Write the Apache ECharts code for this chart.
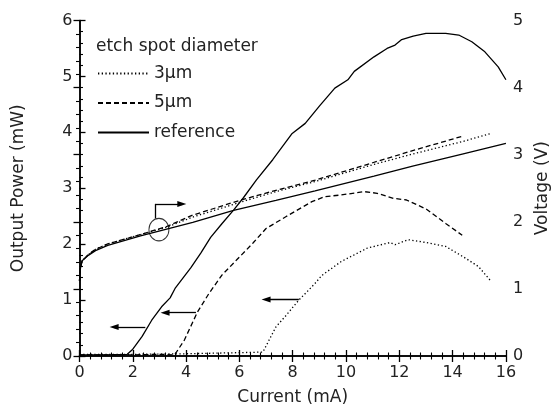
<!DOCTYPE html>
<html>
<head>
<meta charset="utf-8">
<script src="https://cdn.jsdelivr.net/npm/echarts@6/dist/echarts.min.js"></script>
<style>
html,body{margin:0;padding:0;background:#fff;}
#chart{width:559px;height:414px;}
</style>
</head>
<body>
<div id="chart"></div>
<script>
// ---- data (current in mA, power in mW, voltage in V) ----
const legendNames = ['3\u00b5m', '5\u00b5m', 'reference'];
const xTicks = [0, 2, 4, 6, 8, 10, 12, 14, 16];

const refPower = [[0,0.02],[1.0,0.02],[1.79,0.03],[1.98,0.11],[2.35,0.35],[2.71,0.64],[3.08,0.88],[3.4,1.04],[3.6,1.22],[4.18,1.58],[4.55,1.84],[4.92,2.12],[5.35,2.37],[5.78,2.61],[6.15,2.83],[6.64,3.15],[7.25,3.51],[7.98,3.98],[8.47,4.16],[9.0,4.47],[9.58,4.79],[10.07,4.94],[10.31,5.09],[11.05,5.35],[11.54,5.50],[11.84,5.56],[12.09,5.66],[12.52,5.72],[13.0,5.77],[13.74,5.77],[14.23,5.74],[14.72,5.62],[15.21,5.44],[15.71,5.17],[16.0,4.94]];
const dash5Power = [[0,0.02],[2,0.02],[3.0,0.03],[3.57,0.02],[3.94,0.29],[4.43,0.79],[4.86,1.12],[5.35,1.45],[5.90,1.72],[6.51,2.02],[7.0,2.28],[7.74,2.49],[8.72,2.76],[9.2,2.85],[9.82,2.88],[10.68,2.94],[11.17,2.91],[11.78,2.82],[12.27,2.79],[13.0,2.63],[13.74,2.37],[14.36,2.16]];
const dot3Power = [[0,0.03],[2,0.03],[4,0.04],[6,0.06],[6.88,0.07],[7.37,0.52],[7.74,0.72],[8.23,1.0],[8.6,1.18],[8.84,1.30],[9.09,1.44],[9.82,1.69],[10.8,1.93],[11.66,2.03],[11.84,1.99],[12.33,2.08],[13.0,2.03],[13.74,1.96],[14.48,1.75],[14.97,1.60],[15.4,1.36]];

const refVolt = [[0,1.12],[0.03,1.3],[0.1,1.42],[0.33,1.5],[0.6,1.57],[1.06,1.65],[2.29,1.79],[3.27,1.89],[4.25,1.99],[5.78,2.17],[7.37,2.32],[8.84,2.46],[11.05,2.68],[12.5,2.83],[14.36,3.01],[16,3.17]];
const dash5Volt = [[0,1.12],[0.03,1.3],[0.1,1.42],[0.33,1.51],[0.6,1.59],[1.06,1.67],[2.29,1.81],[3.27,1.93],[4.25,2.10],[6.02,2.32],[7.37,2.47],[8.84,2.62],[11.0,2.88],[12.5,3.06],[14.41,3.28]];
const dot3Volt = [[0,1.12],[0.03,1.3],[0.1,1.42],[0.33,1.51],[0.6,1.59],[1.06,1.67],[2.29,1.81],[3.27,1.92],[4.25,2.07],[6.02,2.29],[7.37,2.45],[8.84,2.60],[11.0,2.85],[12.5,3.01],[14.41,3.20],[15.46,3.32]];

// annotation arrows (in data coordinates of the power axis)
const leftArrows = [
  [[2.47,0.52],[1.30,0.52]],
  [[4.37,0.775],[3.21,0.775]],
  [[8.23,1.01],[7.0,1.01]]
];
const bentArrowStem = [[2.84,2.46],[2.84,2.72]];
const bentArrowHead = [[2.84,2.72],[3.84,2.72]];
const ellipseCenter = [[2.98,2.26]];

// ---- chart ----
const FONT = 'DejaVu Sans';
const TXT = '#222';
const chart = echarts.init(document.getElementById('chart'), null, {renderer:'canvas'});

function axisCommon() {
  return {
    axisLine: {show:true, lineStyle:{color:'#000', width:1.5}},
    axisTick: {show:true, inside:true, length:6, lineStyle:{color:'#000', width:1.3}},
    minorTick: {show:true, splitNumber:5, length:3.5, lineStyle:{color:'#000', width:1.1}},
    splitLine: {show:false},
    minorSplitLine: {show:false},
    axisLabel: {color:TXT, fontFamily:FONT, fontSize:16},
    nameTextStyle: {color:TXT, fontFamily:FONT, fontSize:17}
  };
}

const arrowLine = {color:'#000', width:1.3, type:'solid'};
function mk(seg, symbols) {
  return [{coord: seg[0], symbol: symbols[0]}, {coord: seg[1], symbol: symbols[1]}];
}

const option = {
  animation: false,
  backgroundColor: '#fff',
  title: {
    text: 'etch spot diameter',
    left: 96, top: 38, padding: 0,
    textStyle: {fontFamily:FONT, fontSize:17, fontWeight:'normal', color:TXT}
  },
  legend: {
    data: legendNames,
    orient: 'vertical',
    left: 97, top: 65, padding: 0,
    itemWidth: 51, itemHeight: 14, itemGap: 12.5,
    textStyle: {fontFamily:FONT, fontSize:17, color:TXT},
    itemStyle: {color:'rgba(0,0,0,0)', borderWidth:0, opacity:0},
    selectedMode: false
  },
  grid: {left:79.5, right:44, top:20.5, bottom:58, containLabel:false},
  xAxis: [
    Object.assign(axisCommon(), {
      type:'value', min:0, max:16, interval:2, position:'bottom',
      name:'Current (mA)', nameLocation:'middle', nameGap:33,
      axisLabel:{color:TXT, fontFamily:FONT, fontSize:16, margin:9}
    }),
    Object.assign(axisCommon(), {
      type:'value', min:0, max:16, interval:2, position:'top',
      axisLabel:{show:false}
    })
  ],
  yAxis: [
    Object.assign(axisCommon(), {
      type:'value', min:0, max:6, interval:1, position:'left',
      name:'Output Power (mW)', nameLocation:'middle', nameGap:52, nameRotate:90,
      axisLabel:{color:TXT, fontFamily:FONT, fontSize:16, margin:7}
    }),
    Object.assign(axisCommon(), {
      type:'value', min:0, max:5, interval:1, position:'right',
      name:'Voltage (V)', nameLocation:'middle', nameGap:21, nameRotate:90,
      axisLabel:{color:TXT, fontFamily:FONT, fontSize:16, margin:7}
    })
  ],
  series: [
    {name:legendNames[0], type:'line', data:dot3Power, xAxisIndex:0, yAxisIndex:0, symbol:'none', showSymbol:false,
     lineStyle:{color:'#000', width:1.3, type:[1.3,2.4]}, itemStyle:{color:'#000'}},
    {name:legendNames[1], type:'line', data:dash5Power, xAxisIndex:0, yAxisIndex:0, symbol:'none', showSymbol:false,
     lineStyle:{color:'#000', width:1.3, type:[5,3]}, itemStyle:{color:'#000'}},
    {name:legendNames[2], type:'line', data:refPower, xAxisIndex:0, yAxisIndex:0, symbol:'none', showSymbol:false,
     lineStyle:{color:'#000', width:1.3, type:'solid'}, itemStyle:{color:'#000'},
     markLine:{
       silent:true, animation:false, symbolSize:[6,9], label:{show:false}, lineStyle:arrowLine,
       emphasis:{disabled:true},
       data:[
         mk(leftArrows[0], ['none','triangle']),
         mk(leftArrows[1], ['none','triangle']),
         mk(leftArrows[2], ['none','triangle']),
         mk(bentArrowStem, ['none','none']),
         mk(bentArrowHead, ['none','triangle'])
       ]
     }},
    {name:legendNames[0], type:'line', data:dot3Volt, xAxisIndex:0, yAxisIndex:1, symbol:'none', showSymbol:false,
     lineStyle:{color:'#000', width:1.3, type:[1.3,2.4]}, itemStyle:{color:'#000'}},
    {name:legendNames[1], type:'line', data:dash5Volt, xAxisIndex:0, yAxisIndex:1, symbol:'none', showSymbol:false,
     lineStyle:{color:'#000', width:1.3, type:[5,3]}, itemStyle:{color:'#000'}},
    {name:legendNames[2], type:'line', data:refVolt, xAxisIndex:0, yAxisIndex:1, symbol:'none', showSymbol:false,
     lineStyle:{color:'#000', width:1.3, type:'solid'}, itemStyle:{color:'#000'}},
    {name:'ellipse', type:'scatter', data:ellipseCenter, xAxisIndex:0, yAxisIndex:0,
     symbol:'circle', symbolSize:[20,22.5], silent:true,
     itemStyle:{color:'rgba(0,0,0,0)', borderColor:'#000', borderWidth:1}}
  ]
};
chart.setOption(option);
</script>
</body>
</html>
